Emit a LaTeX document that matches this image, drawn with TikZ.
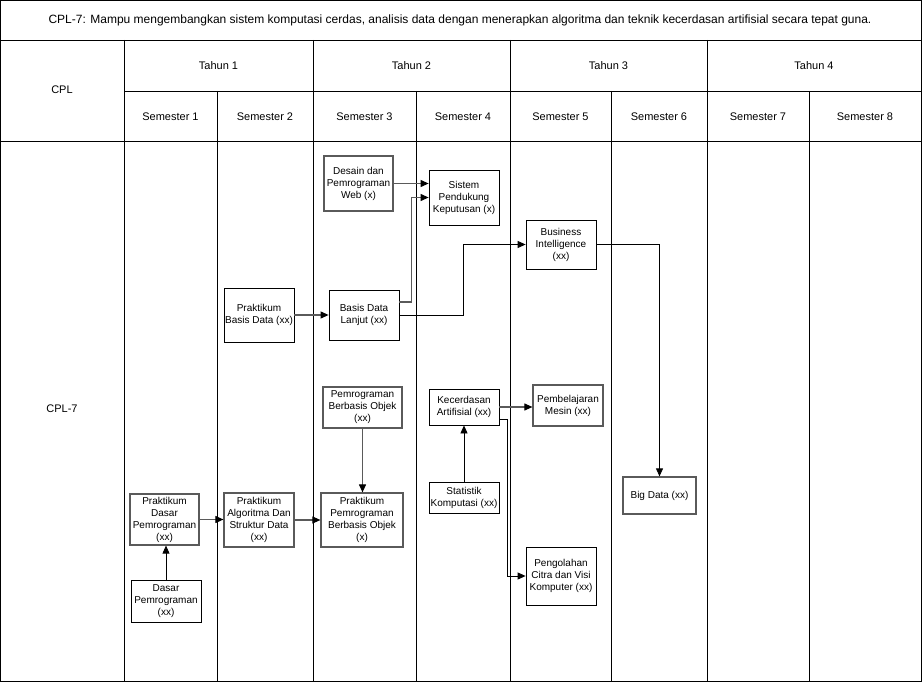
\documentclass[tikz,border=0pt]{standalone}
\usepackage{fontspec}
\setmainfont{Liberation Sans}
\usetikzlibrary{arrows.meta}
\definecolor{linegray}{RGB}{90,90,90}
\tikzset{
  mk/.style={draw, align=center, inner sep=1pt, line width=0.8pt,
    font=\fontsize{10}{12}\selectfont},
  mkgray/.style={mk, draw=linegray, line width=1.2pt},
  hd/.style={font=\fontsize{11}{13}\selectfont},
  link/.style={draw, line width=0.8pt, -{Triangle[length=8pt,width=7pt,color=black]}},
  linkgray/.style={link, draw=linegray, line width=1.1pt}
}
\begin{document}
\begin{tikzpicture}[x=1pt,y=-1pt]
\useasboundingbox (0,0) rectangle (922,682);
% table
\draw[line width=0.8pt] (0.5,0.5) rectangle (921.5,681.5);
\draw[line width=0.8pt] (0,40) -- (922,40);
\draw[line width=0.8pt] (124,91) -- (922,91);
\draw[line width=0.8pt] (0,141) -- (922,141);
\foreach \xx in {124,313,510,707} \draw[line width=0.8pt] (\xx,40) -- (\xx,682);
\foreach \xx in {217,416,611,809} \draw[line width=0.8pt] (\xx,91) -- (\xx,682);
\node[font=\fontsize{12}{14}\selectfont] (judul) at (460,20) {CPL-7: Mampu mengembangkan sistem komputasi cerdas, analisis data dengan menerapkan algoritma dan teknik kecerdasan artifisial secara tepat guna.};
\node[hd] (cpl) at (62,90) {CPL};
\node[hd] (cpl7) at (62,409) {CPL-7};
\node[hd] (th1) at (218.5,66) {Tahun 1};
\node[hd] (th2) at (411.5,66) {Tahun 2};
\node[hd] (th3) at (608.5,66) {Tahun 3};
\node[hd] (th4) at (814,66) {Tahun 4};
\node[hd] (sm1) at (170.5,117) {Semester 1};
\node[hd] (sm2) at (265,117) {Semester 2};
\node[hd] (sm3) at (364.5,117) {Semester 3};
\node[hd] (sm4) at (463,117) {Semester 4};
\node[hd] (sm5) at (560.5,117) {Semester 5};
\node[hd] (sm6) at (659,117) {Semester 6};
\node[hd] (sm7) at (758,117) {Semester 7};
\node[hd] (sm8) at (865,117) {Semester 8};
% mata kuliah
\node[mkgray, minimum width=69, minimum height=55] (desain) at (358.5,183.5) {Desain dan\\Pemrograman\\Web (x)};
\node[mk, minimum width=70, minimum height=55] (spk) at (464,197.5) {Sistem\\Pendukung\\Keputusan (x)};
\node[mk, minimum width=70, minimum height=49] (bi) at (561,244.5) {Business\\Intelligence\\(xx)};
\node[mk, minimum width=70, minimum height=54] (pbd) at (259,315) {Praktikum\\Basis Data (xx)};
\node[mk, minimum width=70, minimum height=50] (bdl) at (364,315) {Basis Data\\Lanjut (xx)};
\node[mkgray, minimum width=79, minimum height=41] (pbo) at (362.5,407.5) {Pemrograman\\Berbasis Objek\\(xx)};
\node[mk, minimum width=70, minimum height=36] (ka) at (464,407) {Kecerdasan\\Artifisial (xx)};
\node[mkgray, minimum width=70, minimum height=41] (pm) at (568,405.5) {Pembelajaran\\Mesin (xx)};
\node[mkgray, minimum width=73, minimum height=37] (bigdata) at (659.5,495.5) {Big Data (xx)};
\node[mk, minimum width=70, minimum height=31] (sk) at (464,497.5) {Statistik\\Komputasi (xx)};
\node[mkgray, minimum width=69, minimum height=51] (pdp) at (164.5,519.5) {Praktikum\\Dasar\\Pemrograman\\(xx)};
\node[mkgray, minimum width=70, minimum height=54] (pasd) at (259,520) {Praktikum\\Algoritma Dan\\Struktur Data\\(xx)};
\node[mkgray, minimum width=82, minimum height=54] (ppbo) at (362,520) {Praktikum\\Pemrograman\\Berbasis Objek\\(x)};
\node[mk, minimum width=70, minimum height=42] (dp) at (166,601) {Dasar\\Pemrograman\\(xx)};
\node[mk, minimum width=70, minimum height=58] (pcv) at (561,576) {Pengolahan\\Citra dan Visi\\Komputer (xx)};
% prasyarat
\path[linkgray] (desain.east) -- (desain.east -| spk.west);
\path[linkgray] ([yshift=13pt]bdl.east) -- ++(12pt,0) |- (spk.west);
\path[link] (bdl.east) -- ++(64pt,0) |- (bi.west);
\path[link] (bi.east) -| (bigdata.north);
\path[linkgray] (pbd.east) -- (bdl.west);
\path[linkgray] (pbo.south) -- (pbo.south |- ppbo.north);
\path[linkgray] (pdp.east) -- (pdp.east -| pasd.west);
\path[linkgray] (pasd.east) -- (pasd.east -| ppbo.west);
\path[link] (dp.north) -- (dp.north |- pdp.south);
\path[link] (sk.north) -- (ka.south);
\path[linkgray] (ka.east) -- (ka.east -| pm.west);
\path[link] ([yshift=-12pt]ka.east) -- ++(8pt,0) |- (pcv.west);
\end{tikzpicture}
\end{document}
